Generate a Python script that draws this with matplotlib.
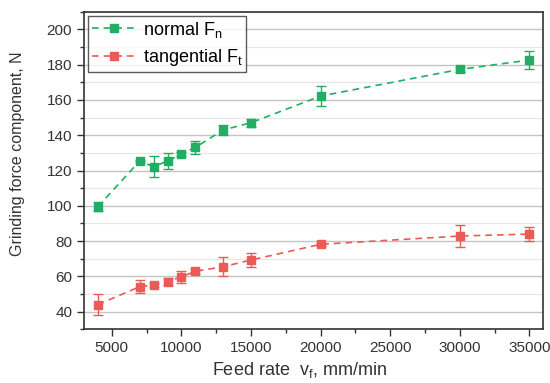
import matplotlib
matplotlib.use("Agg")
import matplotlib.pyplot as plt
from matplotlib.lines import Line2D
from matplotlib.ticker import MultipleLocator

plt.rcParams['font.family'] = ['Liberation Sans', 'DejaVu Sans']

feed = [4000, 7000, 8000, 9000, 10000, 11000, 13000, 15000, 20000, 30000, 35000]
normal = [99.5, 125.4, 122.2, 125.4, 129.3, 133.1, 143.0, 147.1, 162.2, 177.3, 182.6]
normal_err = [2.5, 0.8, 5.8, 4.7, 1.0, 3.5, 2.7, 2.3, 5.6, 1.5, 5.2]
tangential = [44.0, 54.2, 55.1, 57.0, 59.8, 62.9, 65.5, 69.3, 78.2, 82.9, 84.0]
tangential_err = [6.0, 3.8, 1.0, 2.0, 3.4, 1.5, 5.5, 4.2, 1.0, 6.4, 3.9]
labels = ['normal F$_\\mathregular{n}$', 'tangential F$_\\mathregular{t}$']

green = '#1fae64'
red = '#ec5a55'
dash = (0, (4, 3))

fig = plt.figure(figsize=(5.5, 3.83), dpi=100)
ax = fig.add_axes([0.1527, 0.140, 0.8353, 0.8295])

for y, err, c in [(normal, normal_err, green), (tangential, tangential_err, red)]:
    ax.errorbar(feed, y, yerr=err, color=c, ls=dash, lw=1.2,
                marker='s', ms=5.5, capsize=3.5, elinewidth=1, capthick=1)

ax.set_xlim(3000, 36000)
ax.set_ylim(30, 210)
ax.xaxis.set_major_locator(MultipleLocator(5000))
ax.xaxis.set_minor_locator(MultipleLocator(2500))
ax.yaxis.set_major_locator(MultipleLocator(20))
ax.yaxis.set_minor_locator(MultipleLocator(10))

ax.grid(axis='y', which='major', color='#c4c4c4', lw=1)
ax.grid(axis='y', which='minor', color='#e6e6e6', lw=0.8)
ax.set_axisbelow(True)

for s in ax.spines.values():
    s.set_color('#333333')
    s.set_linewidth(1.2)
ax.tick_params(which='major', length=5, width=1, color='#333333',
               labelsize=11, labelcolor='#333333')
ax.tick_params(which='minor', length=3, width=1, color='#333333')

ax.set_xlabel('Feed rate  v$_\\mathregular{f}$, mm/min', fontsize=13, color='#333333')
ax.xaxis.set_label_coords(0.47, -0.095)
ax.set_ylabel('Grinding force component, N', fontsize=11.5, color='#333333')
ax.yaxis.set_label_coords(-0.128, 0.552)

handles = [Line2D([], [], color=c, ls=dash, lw=1.2, marker='s', ms=5.5) for c in (green, red)]
leg = ax.legend(handles, labels, loc='upper left', fontsize=13, frameon=True, fancybox=False,
                edgecolor='#333333', borderaxespad=0.25, borderpad=0.2, handlelength=2.4,
                handletextpad=0.4, labelspacing=0.4)
leg.get_frame().set_linewidth(1)

fig.savefig('out.png', dpi=100)
